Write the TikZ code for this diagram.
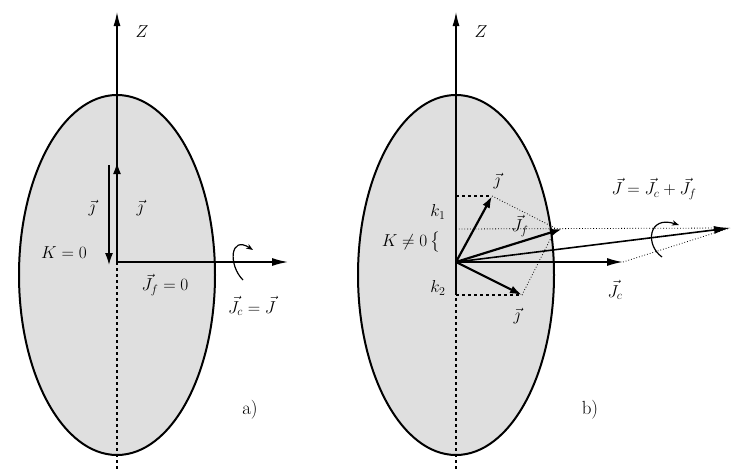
\documentclass[tikz,border=0pt]{standalone}
\usepackage{amsmath}
\usepackage{amssymb}
\usetikzlibrary{arrows.meta}
\begin{document}
\begin{tikzpicture}[x=1pt,y=-1pt,
    every node/.style={font=\fontsize{17}{20}\selectfont,inner sep=1pt},
    vec/.style={-{Latex[length=12pt,width=8pt]},line width=2.2pt},
    thinvec/.style={-{Latex[length=16pt,width=8pt]},line width=1.4pt},
    dot/.style={dotted,line width=0.8pt}]
    \useasboundingbox (0,0) rectangle (747,471);
    % a)
    \filldraw[fill=gray!25,line width=2pt] (117,275) ellipse [x radius=98,y radius=180];
    \coordinate (O1) at (117,262);
    \coordinate (Z1) at (117,12);
    \draw[-{Latex[length=14pt,width=7pt]},line width=1.2pt] (O1) -- (Z1);
    \draw[dashed,line width=1.2pt] (O1) -- (117,471);
    \node at (142,32) {$Z$};
    \coordinate (U1) at (117,162);
    \draw[vec] (O1) -- (U1);
    \coordinate (D1) at (109,165);
    \coordinate (D2) at (109,265);
    \draw[vec,line width=1.6pt] (D1) -- (D2);
    \node at (92,208) {$\vec{\jmath}$};
    \node at (140,208) {$\vec{\jmath}$};
    \node at (64,253) {$K=0$};
    \coordinate (E1) at (215,262);
    \coordinate (T1) at (288,262);
    \draw[line width=2.2pt] (O1) -- (E1);
    \draw[thinvec] (E1) -- (T1);
    \draw[-{Stealth[length=7pt]},line width=1.2pt] (243,280) .. controls (228,265) and (230,235) .. (253,250);
    \node at (165,285) {$\vec{J}_f=0$};
    \node at (252,306) {$\vec{J}_c=\vec{J}$};
    \node[font=\fontsize{19}{22}\selectfont] at (250,410) {a)};
    % b)
    \filldraw[fill=gray!25,line width=2pt] (456,275) ellipse [x radius=98,y radius=180];
    \coordinate (O2) at (456,262);
    \draw[-{Latex[length=14pt,width=7pt]},line width=1.2pt] (O2) -- (456,12);
    \draw[dashed,line width=1.2pt] (O2) -- (456,471);
    \node at (481,32) {$Z$};
    \coordinate (K1) at (456,196);
    \coordinate (K2) at (456,295);
    \draw[line width=2pt] (K1) -- (K2);
    \coordinate (A1) at (492,196);
    \coordinate (A2) at (522,295);
    \draw[dashed,line width=1.4pt] (K1) -- (A1);
    \draw[dashed,line width=1.4pt] (K2) -- (A2);
    \draw[vec] (O2) -- (A1);
    \draw[vec] (O2) -- (A2);
    \coordinate (F) at (562,229);
    \coordinate (C) at (623,262);
    \coordinate (J) at (730,228);
    \draw[vec] (O2) -- (F);
    \draw[thinvec,line width=1.6pt] (O2) -- (C);
    \draw[thinvec,line width=1.6pt] (O2) -- (J);
    \draw[dot] (456,229) -- (J);
    \draw[dot] (A1) -- (555,228);
    \draw[dot] (A2) -- (555,230);
    \draw[dot] (C) -- (J);
    \draw[-{Stealth[length=7pt]},line width=1.2pt] (662,257) .. controls (645,245) and (648,215) .. (679,225);
    \node at (497,181) {$\vec{\jmath}$};
    \node at (517,316) {$\vec{\jmath}$};
    \node at (438,212) {$k_1$};
    \node at (438,288) {$k_2$};
    \node at (520,226) {$\vec{J}_f$};
    \node at (411,242) {$K\neq0\,\big\{$};
    \node at (654,189) {$\vec{J}=\vec{J}_c+\vec{J}_f$};
    \node at (615,290) {$\vec{J}_c$};
    \node[font=\fontsize{19}{22}\selectfont] at (590,410) {b)};
\end{tikzpicture}
\end{document}
